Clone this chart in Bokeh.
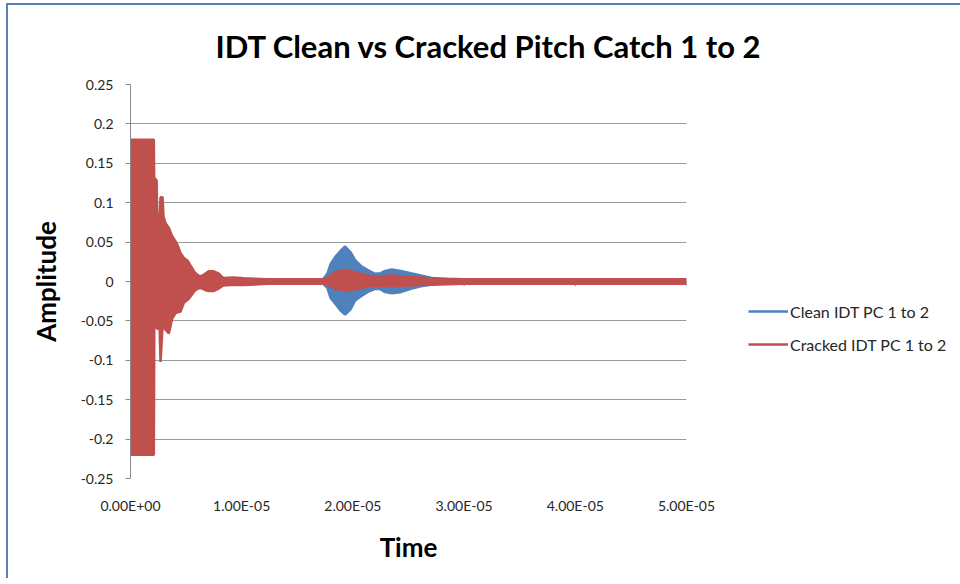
from bokeh.plotting import figure
from bokeh.models import Range1d, FixedTicker, Legend, LegendItem, ColumnDataSource
from bokeh.embed import file_html
from bokeh.resources import INLINE

# ---- data (time in microseconds, amplitude) ----
red_t = [0, 2.10, 2.12, 2.35, 2.40, 2.62, 2.70, 2.88, 2.97, 3.15, 3.45, 3.75, 4.05, 4.26, 4.50,
         4.80, 5.16, 5.45, 5.76, 6.06, 6.35, 6.74, 7.04, 7.49, 7.94, 8.33, 9.30, 10.2, 12.3,
         17.4, 17.8, 18.4, 19.3, 20.2, 21.3, 22.2, 23.4, 24.9, 26.7, 28.5, 30.0, 50.0]
red_hi = [0.18, 0.18, 0.132, 0.128, 0.082, 0.082, 0.107, 0.107, 0.082, 0.074, 0.068, 0.0575, 0.051,
          0.045, 0.036, 0.030, 0.026, 0.019, 0.012, 0.008, 0.006, 0.010, 0.013, 0.013, 0.010, 0.0045,
          0.005, 0.004, 0.003, 0.003, 0.0055, 0.0118, 0.0148, 0.0118, 0.0076, 0.006, 0.0076, 0.006,
          0.0045, 0.0035, 0.003, 0.003]
red_lo = [-0.22, -0.22, -0.058, -0.058, -0.06, -0.06, -0.102, -0.058, -0.058, -0.061, -0.066, -0.047,
          -0.040, -0.039, -0.038, -0.027, -0.023, -0.018, -0.012, -0.009, -0.008, -0.011, -0.012,
          -0.012, -0.009, -0.005, -0.004, -0.0045, -0.003, -0.003, -0.005, -0.0093, -0.0114, -0.010,
          -0.0063, -0.005, -0.006, -0.005, -0.004, -0.0035, -0.003, -0.003]

blue_t = [0, 2.10, 2.12, 3.0, 4.0, 5.0, 6.0, 7.0, 8.0, 9.0, 12.0, 17.3, 17.7, 18.0, 18.4, 18.9,
          19.3, 19.8, 20.2, 20.7, 21.3, 22.0, 22.5, 22.9, 23.5, 24.3, 25.2, 26.1, 27.0, 27.9, 30.0, 50.0]
blue_hi = [0.15, 0.15, 0.10, 0.06, 0.04, 0.02, 0.006, 0.009, 0.005, 0.003, 0.0025, 0.0025, 0.0098,
           0.0224, 0.031, 0.039, 0.0444, 0.037, 0.027, 0.020, 0.0148, 0.0098, 0.0105, 0.0135, 0.0152,
           0.0135, 0.0105, 0.0076, 0.0047, 0.003, 0.0025, 0.0025]
blue_lo = [-0.18, -0.18, -0.05, -0.05, -0.035, -0.02, -0.008, -0.009, -0.005, -0.003, -0.0025, -0.0025,
           -0.008, -0.021, -0.028, -0.037, -0.042, -0.035, -0.024, -0.019, -0.0135, -0.0093, -0.0100,
           -0.0135, -0.0148, -0.0135, -0.0093, -0.006, -0.004, -0.003, -0.0025, -0.0025]

x_ticks = [0, 1e-5, 2e-5, 3e-5, 4e-5, 5e-5]
x_tick_labels = ["0.00E+00", "1.00E-05", "2.00E-05", "3.00E-05", "4.00E-05", "5.00E-05"]
y_ticks = [-0.25, -0.2, -0.15, -0.1, -0.05, 0, 0.05, 0.1, 0.15, 0.2, 0.25]
y_tick_labels = ["-0.25", "-0.2", "-0.15", "-0.1", "-0.05", "0", "0.05", "0.1", "0.15", "0.2", "0.25"]

title_text = "IDT Clean vs Cracked Pitch Catch 1 to 2"
series_names = ["Clean IDT PC 1 to 2", "Cracked IDT PC 1 to 2"]
BLUE = "#4F81BD"
RED = "#C0504D"
FONT = "Lato"

red_src = ColumnDataSource(dict(t=[v * 1e-6 for v in red_t], hi=red_hi, lo=red_lo))
blue_src = ColumnDataSource(dict(t=[v * 1e-6 for v in blue_t], hi=blue_hi, lo=blue_lo))

p = figure(frame_width=556, frame_height=394, output_backend="svg", toolbar_location=None,
           x_range=Range1d(0, 5e-5), y_range=Range1d(-0.25, 0.25),
           min_border_left=122, min_border_right=0, min_border_top=60, min_border_bottom=100)
p.outline_line_color = None
p.background_fill_color = "white"
p.border_fill_color = "white"
p.styles = {"margin-top": "3px", "margin-left": "6px",
            "border-top": "2px solid #5A80B8", "border-left": "2px solid #5A80B8"}

# title
p.title.text = title_text
p.title.align = "left"
p.title.offset = 85
p.title.standoff = 39
p.title.text_font = FONT
p.title.text_font_size = "31px"
p.title.text_font_style = "bold"
p.title.text_color = "#000000"

# grid
p.xgrid.grid_line_color = None
p.ygrid.grid_line_color = "#9A9A9A"
p.ygrid.grid_line_width = 1

# axes
p.xaxis.ticker = FixedTicker(ticks=x_ticks)
p.xaxis.major_label_overrides = dict(zip(x_ticks, x_tick_labels))
p.xaxis.axis_line_color = None
p.xaxis.major_tick_line_color = None
p.xaxis.minor_tick_line_color = None
p.xaxis.major_label_standoff = 12
p.xaxis.axis_label = "Time"
p.xaxis.axis_label_standoff = 14

p.yaxis.ticker = FixedTicker(ticks=y_ticks)
p.yaxis.major_label_overrides = dict(zip(y_ticks, y_tick_labels))
p.yaxis.axis_line_color = "#8A8A8A"
p.yaxis.major_tick_line_color = "#8A8A8A"
p.yaxis.major_tick_out = 5
p.yaxis.major_tick_in = 0
p.yaxis.minor_tick_line_color = None
p.yaxis.major_label_standoff = 12
p.yaxis.axis_label = "Amplitude"
p.yaxis.axis_label_standoff = 16

for ax in (p.xaxis, p.yaxis):
    ax.major_label_text_font = FONT
    ax.major_label_text_font_size = "14px"
    ax.major_label_text_color = "#262626"
    ax.axis_label_text_font = FONT
    ax.axis_label_text_font_size = "26px"
    ax.axis_label_text_font_style = "bold"
    ax.axis_label_text_color = "#000000"

# x-axis tick marks on the zero line (Excel axis crosses at 0)
p.segment(x0=x_ticks, x1=x_ticks, y0=[0] * len(x_ticks), y1=[-0.006] * len(x_ticks),
          line_color="#8A8A8A", line_width=1)

# series
p.varea(x="t", y1="lo", y2="hi", source=blue_src, fill_color=BLUE)
b_hi = p.line("t", "hi", source=blue_src, line_color=BLUE, line_width=2.5)
p.line("t", "lo", source=blue_src, line_color=BLUE, line_width=2.5)

p.varea(x="t", y1="lo", y2="hi", source=red_src, fill_color=RED)
r_hi = p.line("t", "hi", source=red_src, line_color=RED, line_width=2.5)
p.line("t", "lo", source=red_src, line_color=RED, line_width=2.5)

legend = Legend(items=[LegendItem(label=series_names[0], renderers=[b_hi]),
                       LegendItem(label=series_names[1], renderers=[r_hi])],
                location=(62, 124), glyph_width=40, glyph_height=20, label_height=20,
                spacing=13, padding=0, margin=0, label_standoff=2,
                border_line_color=None, background_fill_alpha=0,
                label_text_font=FONT, label_text_font_size="16px", label_text_color="#262626")
p.add_layout(legend, "right")

open("out.html", "w").write(file_html(p, INLINE))
